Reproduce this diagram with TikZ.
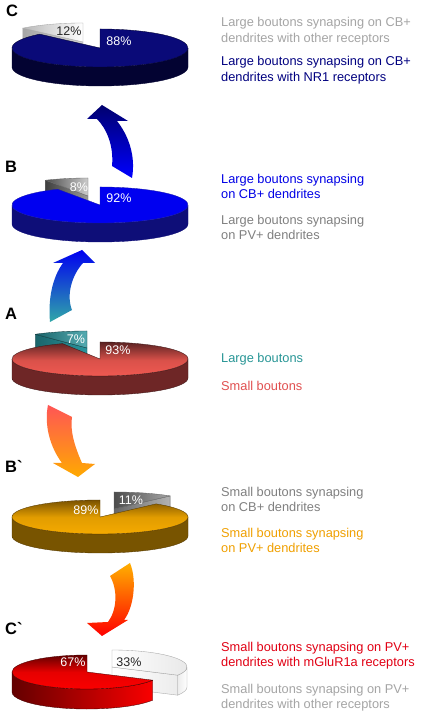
\documentclass[tikz,border=0pt]{standalone}
\usepackage{fontspec}
\setmainfont{Liberation Sans}
\usetikzlibrary{calc}
\definecolor{navytop}{RGB}{10,10,120}
\definecolor{navyside}{RGB}{8,8,90}
\definecolor{navyedge}{RGB}{3,3,50}
\definecolor{bluetop}{RGB}{0,0,240}
\definecolor{blueside}{RGB}{24,24,175}
\definecolor{bluesideedge}{RGB}{14,14,120}
\definecolor{redback}{RGB}{90,34,34}
\definecolor{redfront}{RGB}{242,90,82}
\definecolor{redside}{RGB}{210,72,68}
\definecolor{redsideedge}{RGB}{110,38,38}
\definecolor{teal1}{RGB}{42,150,158}
\definecolor{teal2}{RGB}{26,100,106}
\definecolor{goldback}{RGB}{122,82,0}
\definecolor{goldfront}{RGB}{245,170,0}
\definecolor{goldside}{RGB}{205,142,0}
\definecolor{goldsideedge}{RGB}{120,84,0}
\definecolor{crimback}{RGB}{100,0,0}
\definecolor{crimfront}{RGB}{250,0,0}
\definecolor{lgray}{RGB}{165,165,165}
\definecolor{mgray}{RGB}{128,128,128}
\definecolor{labnavy}{RGB}{0,0,128}
\definecolor{labblue}{RGB}{0,0,230}
\definecolor{labteal}{RGB}{40,150,150}
\definecolor{labred}{RGB}{225,80,80}
\definecolor{laborange}{RGB}{240,160,0}
\definecolor{labcrim}{RGB}{225,0,20}
\newcommand\pieSide[8]{\path[#8] ($(#1,#2)+(#6:#3pt and #4pt)$) arc[start angle=#6,end angle=#7,x radius=#3pt,y radius=#4pt] -- ++(0,-#5) arc[start angle=#7,end angle=#6,x radius=#3pt,y radius=#4pt] -- cycle;}
\newcommand\pieTop[7]{\path[#7] (#1,#2) -- ++(#5:#3pt and #4pt) arc[start angle=#5,end angle=#6,x radius=#3pt,y radius=#4pt] -- cycle;}
\newcommand\pieFace[7]{\path[#7] (#1,#2) -- ++(#6:#3pt and #4pt) -- ++(0,-#5) -- ++(#6+180:#3pt and #4pt) -- cycle;}
\tikzset{
  lbl/.style={font=\fontsize{12.8}{15}\selectfont, anchor=base west, inner sep=0pt},
  pct/.style={font=\fontsize{12.5}{14}\selectfont, inner sep=0pt},
  letter/.style={font=\fontsize{16.5}{18}\selectfont\bfseries, anchor=base west, inner sep=0pt},
  edge/.style={draw=#1, line width=0.35pt, line join=round},
}
\begin{document}
\begin{tikzpicture}[x=1pt,y=1pt]
\fill[white] (0,0) rectangle (425,715);
\useasboundingbox (0,0) rectangle (425,715);

% ---------- Pie C ----------
\pieFace{83}{673}{88}{19}{19}{133.2}{edge=gray!70, left color=gray!70, right color=gray!35}
\pieTop{83}{673}{88}{19}{90}{133.2}{edge=gray!70, left color=gray!55, right color=white}
\pieSide{100}{667}{88}{19}{19}{180}{360}{edge=navyedge, left color=navyedge, middle color=navyside, right color=navyedge}
\pieTop{100}{667}{88}{19}{133.2}{450}{edge=navyedge, fill=navytop}
\node[pct, text=black!85] (p12) at (69,684) {12\%};
\node[pct, text=white] (p88) at (119,674) {88\%};

% ---------- Pie B ----------
\pieFace{88}{519}{88}{18}{19}{118.8}{edge=gray!80!black, left color=black!75, right color=black!40}
\pieTop{88}{519}{88}{18}{90}{118.8}{edge=gray!80!black, left color=black!70, right color=black!20}
\pieSide{100}{510}{88}{18}{19}{180}{360}{edge=bluesideedge, left color=bluesideedge, middle color=blueside, right color=bluesideedge}
\pieTop{100}{510}{88}{18}{118.8}{450}{edge=blueside, fill=bluetop}
\node[pct, text=white] (p8) at (79,528) {8\%};
\node[pct, text=white] (p92) at (119,517) {92\%};

% ---------- Pie A ----------
\pieFace{87}{367}{88}{17}{19}{126}{edge=teal2!60!black, left color=teal2, right color=teal1}
\pieTop{87}{367}{88}{17}{90}{126}{edge=teal2!60!black, left color=teal2, right color=teal1!80!white}
\pieSide{100}{356}{88}{17}{19}{180}{360}{edge=redback!70!black, left color=redsideedge, middle color=redside, right color=redsideedge}
\pieTop{100}{356}{88}{17}{115.2}{450}{edge=redback!70!black, top color=redback, bottom color=redfront, middle color=redfront!90!black}
\node[pct, text=white] (p7) at (76,376) {7\%};
\node[pct, text=white] (p93) at (118,365) {93\%};

% ---------- Pie B` ----------
\pieFace{114}{206}{88}{17}{19}{50.4}{edge=black!60, left color=black!60, right color=black!30}
\pieTop{114}{206}{88}{17}{50.4}{90}{edge=black!60, left color=black!70, right color=black!35}
\pieSide{100}{198}{88}{17}{19}{180}{360}{edge=goldback!70!black, left color=goldsideedge, middle color=goldside, right color=goldsideedge}
\pieTop{100}{198}{88}{17}{90}{410.4}{edge=goldback!70!black, top color=goldback, bottom color=goldfront, middle color=goldfront!92!black}
\node[pct, text=white] (p11) at (131,215) {11\%};
\node[pct, text=white] (p89) at (86,205) {89\%};

% ---------- Pie C` ----------
\pieSide{112}{48}{75}{17}{20}{-28.8}{0}{edge=gray!70, left color=gray!15, right color=white}
\pieFace{112}{48}{75}{17}{20}{-28.8}{edge=gray!70, left color=white, right color=gray!15}
\pieTop{112}{48}{75}{17}{-28.8}{90}{edge=gray!70, left color=white, right color=gray!20}
\pieSide{87}{43}{75}{17}{20}{180}{331.2}{edge=crimback!70!black, left color=crimback, right color=crimfront}
\pieTop{87}{43}{75}{17}{90}{331.2}{edge=crimback!70!black, top color=crimback, bottom color=crimfront, middle color=crimfront!92!black}
\node[pct, text=white] (p67) at (73,53) {67\%};
\node[pct, text=black!85] (p33) at (129,53) {33\%};

% ---------- Arrows ----------
\path[top color={rgb,255:red,0;green,0;blue,110}, bottom color={rgb,255:red,0;green,0;blue,255}]
  (112,549) .. controls (114,570) and (106,587) .. (97,596) -- (87,596) -- (102,610) -- (128,594) -- (117,594)
  .. controls (128,580) and (136,560) .. (132,537) -- cycle;
\path[top color={rgb,255:red,0;green,0;blue,240}, bottom color={rgb,255:red,48;green,168;blue,168}]
  (50,393) .. controls (48,415) and (52,437) .. (63,452) -- (53,452) -- (82,465) -- (95,452) -- (83,452)
  .. controls (72,440) and (66,420) .. (72,405) -- cycle;
\path[top color={rgb,255:red,255;green,85;blue,85}, bottom color={rgb,255:red,255;green,170;blue,0}]
  (48,310) .. controls (44,290) and (50,268) .. (62,252) -- (53,252) -- (78,238) -- (95,251) -- (82,252)
  .. controls (74,270) and (70,285) .. (72,298) -- cycle;
\path[top color={rgb,255:red,255;green,176;blue,0}, bottom color={rgb,255:red,255;green,0;blue,0}]
  (110,139) .. controls (118,125) and (117,105) .. (108,93) -- (87,92) -- (102,79) -- (128,95) -- (124,95)
  .. controls (134,108) and (137,135) .. (130,152) -- cycle;

% ---------- Letters ----------
\node[letter] (LC) at (6,698) {C};
\node[letter] (LB) at (5,542) {B};
\node[letter] (LA) at (5,395) {A};
\node[letter] (LBp) at (5,242) {B\textasciigrave};
\node[letter] (LCp) at (5,80) {C\textasciigrave};

% ---------- Legends ----------
\node[lbl, text=lgray] (c1) at (221,688.3) {Large boutons synapsing on CB+};
\node[lbl, text=lgray] (c2) at (221,672.7) {dendrites with other receptors};
\node[lbl, text=labnavy] (c3) at (221,649) {Large boutons synapsing on CB+};
\node[lbl, text=labnavy] (c4) at (221,633.3) {dendrites with NR1 receptors};

\node[lbl, text=labblue] (b1) at (221,531.7) {Large boutons synapsing};
\node[lbl, text=labblue] (b2) at (221,516.7) {on CB+ dendrites};
\node[lbl, text=mgray] (b3) at (221,490) {Large boutons synapsing};
\node[lbl, text=mgray] (b4) at (221,475) {on PV+ dendrites};

\node[lbl, text=labteal] (a1) at (221,352.3) {Large boutons};
\node[lbl, text=labred] (a2) at (221,324.3) {Small boutons};

\node[lbl, text=mgray] (d1) at (221,218.3) {Small boutons synapsing};
\node[lbl, text=mgray] (d2) at (221,203.3) {on CB+ dendrites};
\node[lbl, text=laborange] (d3) at (221,177) {Small boutons synapsing};
\node[lbl, text=laborange] (d4) at (221,162) {on PV+ dendrites};

\node[lbl, text=labcrim] (e1) at (221,63.3) {Small boutons synapsing on PV+};
\node[lbl, text=labcrim] (e2) at (221,48.3) {dendrites with mGluR1a receptors};
\node[lbl, text=lgray] (e3) at (221,21.7) {Small boutons synapsing on PV+};
\node[lbl, text=lgray] (e4) at (221,6.7) {dendrites with other receptors};
\end{tikzpicture}
\end{document}
